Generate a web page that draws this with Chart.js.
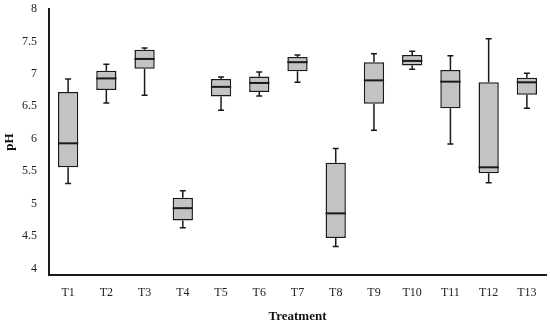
<!DOCTYPE html>
<html>
<head>
<meta charset="utf-8">
<script src="https://cdn.jsdelivr.net/npm/chart.js@4/dist/chart.umd.min.js"></script>
<style>
  html, body { margin: 0; padding: 0; background: #fff; }
  #wrap { width: 550px; height: 324px; }
</style>
</head>
<body>
<div id="wrap"><canvas id="ph"></canvas></div>
<script>
const TREATMENTS = ['T1', 'T2', 'T3', 'T4', 'T5', 'T6', 'T7', 'T8', 'T9', 'T10', 'T11', 'T12', 'T13'];
const WHISKER_LOW = [5.31, 6.55, 6.67, 4.63, 6.44, 6.66, 6.87, 4.34, 6.13, 7.07, 5.92, 5.32, 6.47];
const Q1 = [5.56, 6.75, 7.08, 4.74, 6.65, 6.72, 7.04, 4.47, 6.54, 7.13, 6.47, 5.47, 6.68];
const MEDIAN = [5.93, 6.93, 7.23, 4.93, 6.80, 6.86, 7.18, 4.85, 6.90, 7.20, 6.88, 5.56, 6.87];
const Q3 = [6.72, 7.05, 7.37, 5.09, 6.92, 6.96, 7.26, 5.63, 7.18, 7.29, 7.06, 6.87, 6.94];
const WHISKER_HIGH = [6.92, 7.15, 7.40, 5.20, 6.95, 7.03, 7.29, 5.85, 7.31, 7.35, 7.28, 7.54, 7.01];
const Y_TICKS = [4, 4.5, 5, 5.5, 6, 6.5, 7, 7.5, 8];

const FONT = "'Liberation Serif', 'Times New Roman', serif";

// whiskers, caps and median line on top of the floating bars
const boxExtras = {
  id: 'boxExtras',
  afterDatasetsDraw(chart) {
    const ctx = chart.ctx;
    const y = chart.scales.y;
    const meta = chart.getDatasetMeta(0);
    ctx.save();
    ctx.strokeStyle = '#1a1a1a';
    meta.data.forEach((bar, i) => {
      const x = bar.x;
      const half = bar.width / 2;
      const top = y.getPixelForValue(Q3[i]);
      const bottom = y.getPixelForValue(Q1[i]);
      const hi = y.getPixelForValue(WHISKER_HIGH[i]);
      const lo = y.getPixelForValue(WHISKER_LOW[i]);
      const med = y.getPixelForValue(MEDIAN[i]);
      ctx.lineWidth = 1.5;
      ctx.beginPath();
      ctx.moveTo(x, top); ctx.lineTo(x, hi);
      ctx.moveTo(x, bottom); ctx.lineTo(x, lo);
      ctx.moveTo(x - 3, hi); ctx.lineTo(x + 3, hi);
      ctx.moveTo(x - 3, lo); ctx.lineTo(x + 3, lo);
      ctx.stroke();
      ctx.lineWidth = 2;
      ctx.beginPath();
      ctx.moveTo(x - half, med); ctx.lineTo(x + half, med);
      ctx.stroke();
    });
    ctx.restore();
  }
};

new Chart(document.getElementById('ph'), {
  type: 'bar',
  data: {
    labels: TREATMENTS,
    datasets: [{
      label: 'pH',
      data: Q1.map((q, i) => [q, Q3[i]]),
      backgroundColor: '#c3c3c3',
      borderColor: '#1a1a1a',
      borderWidth: 1.5,
      borderSkipped: false,
      barPercentage: 0.53,
      categoryPercentage: 1
    }]
  },
  options: {
    responsive: true,
    maintainAspectRatio: false,
    animation: false,
    layout: { padding: { top: 9, right: 4, left: 2, bottom: 0 } },
    plugins: {
      legend: { display: false },
      tooltip: { enabled: false }
    },
    scales: {
      x: {
        afterFit: (axis) => { axis.height = 49; axis.paddingLeft = 0; axis.paddingRight = 0; },
        grid: { display: false, drawTicks: false },
        border: { display: true, color: '#1a1a1a', width: 2 },
        ticks: { color: '#222', padding: 11, font: { family: FONT, size: 12 } },
        title: {
          display: true,
          text: 'Treatment',
          color: '#111',
          padding: { top: 4, bottom: 0 },
          font: { family: FONT, size: 13, weight: 'bold' }
        }
      },
      y: {
        min: 3.9,
        max: 8,
        afterBuildTicks: (axis) => { axis.ticks = Y_TICKS.map(v => ({ value: v })); },
        afterFit: (axis) => { axis.width = 47; axis.paddingTop = 0; axis.paddingBottom = 0; },
        grid: { display: false, drawTicks: false },
        border: { display: true, color: '#1a1a1a', width: 2 },
        ticks: {
          color: '#222',
          padding: 12,
          font: { family: FONT, size: 12 },
          callback: (v) => String(v)
        },
        title: {
          display: true,
          text: 'pH',
          color: '#111',
          padding: { top: 0, bottom: 2 },
          font: { family: FONT, size: 13, weight: 'bold' }
        }
      }
    }
  },
  plugins: [boxExtras]
});
</script>
</body>
</html>
